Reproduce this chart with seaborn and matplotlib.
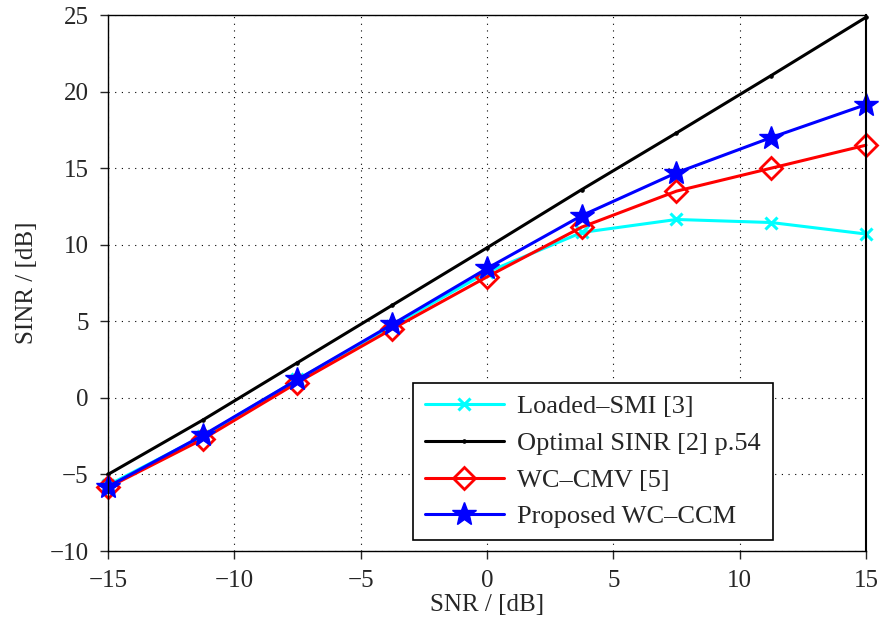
import pandas as pd
import seaborn as sns
import matplotlib
matplotlib.use("Agg")
import matplotlib.pyplot as plt

# SNR values (dB) and SINR curves
snr = [-15, -11.25, -7.5, -3.75, 0, 3.75, 7.5, 11.25, 15]
loaded_smi = [-5.7, -2.5, 1.2, 4.7, 8.2, 10.8, 11.65, 11.45, 10.7]
optimal = [-5.0, -1.45, 2.3, 6.05, 9.8, 13.6, 17.3, 21.05, 24.85]
wc_cmv = [-5.85, -2.7, 1.0, 4.5, 7.9, 11.15, 13.5, 15.0, 16.5]
proposed = [-5.8, -2.45, 1.2, 4.8, 8.45, 11.9, 14.7, 17.0, 19.15]

sns.set_style("ticks")
plt.rcParams['font.family'] = ['Liberation Serif', 'DejaVu Serif']

fig = plt.figure(figsize=(8.83, 6.34), dpi=100)
ax = fig.add_axes([0.1223, 0.1309, 0.8584, 0.8454])

series = [
    ("Loaded\u2013SMI [3]", loaded_smi, "cyan",
     dict(marker="x", markersize=8, markeredgewidth=2.2)),
    ("Optimal SINR [2] p.54", optimal, "black",
     dict(marker=".", markersize=5)),
    ("WC\u2013CMV [5]", wc_cmv, "red",
     dict(marker="D", markersize=11, markerfacecolor="none", markeredgewidth=2)),
    ("Proposed WC\u2013CCM", proposed, "blue",
     dict(marker="*", markersize=18, markerfacecolor="blue", markeredgewidth=1)),
]

for name, vals, col, kw in series:
    df = pd.DataFrame({"snr": snr, "sinr": vals})
    sns.lineplot(data=df, x="snr", y="sinr", ax=ax, label=name, linewidth=2.2,
                 color=col, markeredgecolor=col, linestyle="-",
                 clip_on=False, **kw)

ax.set_xlim(-15, 15)
ax.set_ylim(-10, 25)
ax.set_xticks(range(-15, 16, 5))
ax.set_yticks(range(-10, 26, 5))
ax.set_xticklabels(["\u221215", "\u221210", "\u22125", "0", "5", "10", "15"])
ax.set_yticklabels(["\u221210", "\u22125", "0", "5", "10", "15", "20", "25"])
ax.tick_params(direction="out", labelsize=18, length=6, width=1, pad=8,
               top=False, right=False)
ax.grid(True, linestyle=(0, (1, 5)), color="black", linewidth=0.8)
for s in ax.spines.values():
    s.set_linewidth(1)
    s.set_color("black")
ax.spines["right"].set_linewidth(1.5)

ax.set_xlabel("SNR / [dB]", fontsize=18, labelpad=1)
ax.set_ylabel("SINR / [dB]", fontsize=18, labelpad=8)

leg = ax.legend(loc="lower right", bbox_to_anchor=(0.877, 0.02), fontsize=19,
                frameon=True, fancybox=False, edgecolor="black", framealpha=1,
                handlelength=3.0, borderpad=0.45, labelspacing=0.5,
                handletextpad=0.5, borderaxespad=0)
leg.get_frame().set_linewidth(1.2)

fig.savefig("out.png", dpi=100)
